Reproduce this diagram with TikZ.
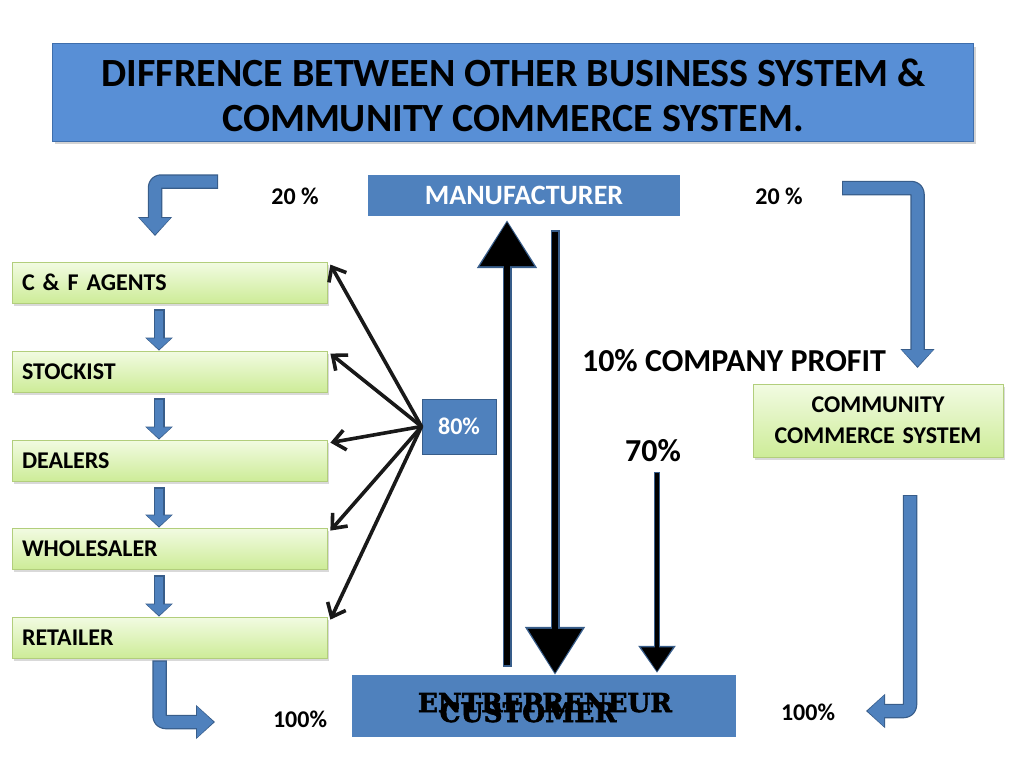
\documentclass[tikz,border=0pt]{standalone}
\usepackage{fontspec}
\usepackage{graphicx}
\setmainfont{Carlito}
\newfontfamily\fancyfont[FakeBold=2]{DejaVu Serif}
\usetikzlibrary{arrows.meta,shadows,calc}
\definecolor{bfill}{RGB}{79,129,189}
\definecolor{bdark}{RGB}{56,93,138}
\definecolor{tfill}{RGB}{88,143,214}
\definecolor{tborder}{RGB}{62,110,172}
\definecolor{gtop}{RGB}{242,251,226}
\definecolor{gbot}{RGB}{205,236,152}
\definecolor{gborder}{RGB}{178,206,124}
\begin{document}
\begin{tikzpicture}[x=1pt,y=-1pt,
  lbl/.style={font=\fontsize{24}{29}\selectfont\bfseries},
  big/.style={font=\fontsize{32}{38}\selectfont\bfseries},
  greenbox/.style={draw=gborder,line width=0.8pt,top color=gtop,bottom color=gbot,
    minimum height=41pt,text width=295pt,inner xsep=10pt,inner ysep=0pt,align=left,lbl,
    drop shadow={shadow xshift=2pt,shadow yshift=-2.5pt,opacity=0.3}},
  bluebox/.style={fill=bfill,inner sep=0pt},
  bO/.style={draw=bdark,line width=14.5pt,rounded corners=6pt,line join=round,-{Triangle[width=33pt,length=19pt]}},
  bI/.style={draw=bfill,line width=12pt,rounded corners=6pt,line join=round,shorten >=1.5pt,shorten <=1.2pt,-{Triangle[width=30pt,length=16.5pt]}},
  sO/.style={draw=bdark,line width=11pt,-{Triangle[width=27pt,length=13pt]}},
  sI/.style={draw=bfill,line width=8.6pt,shorten >=1.2pt,shorten <=1.2pt,-{Triangle[width=24pt,length=11pt]}},
  kO/.style={draw=bdark,line width=9pt,-{Triangle[width=58pt,length=48pt]}},
  kI/.style={draw=black,line width=5.5pt,shorten >=2pt,shorten <=1.5pt,-{Triangle[width=53pt,length=44pt]}},
  mO/.style={draw=bdark,line width=6pt,-{Triangle[width=36pt,length=27pt]}},
  mI/.style={draw=black,line width=3.5pt,shorten >=1.5pt,shorten <=1.2pt,-{Triangle[width=31pt,length=24pt]}},
  ptr/.style={draw=black!90,line width=3.6pt,line cap=round,-{Straight Barb[length=12pt,width=20pt]}}
]
\useasboundingbox (0,0) rectangle (1024,768);

% title
\node[draw=tborder,line width=1pt,fill=tfill,minimum width=921pt,minimum height=97pt,inner sep=0pt,
  drop shadow={shadow xshift=2.5pt,shadow yshift=-3pt,opacity=0.35}] (title) at (512.5,92.5) {};
\node[anchor=base,font=\fontsize{40}{48}\selectfont\bfseries] (tl1) at (513.5,86) {DIFFRENCE BETWEEN OTHER BUSINESS SYSTEM \&};
\node[anchor=base,font=\fontsize{40}{48}\selectfont\bfseries] (tl2) at (513,131) {COMMUNITY COMMERCE SYSTEM.};

% top row
\node[lbl,anchor=base] (t20l) at (295,204) {20 \%};
\node[lbl,anchor=base] (t20r) at (779,204) {20 \%};
\node[bluebox,minimum width=312pt,minimum height=41pt,font=\fontsize{28}{34}\selectfont\bfseries,text=white] (man) at (524,195.5) {MANUFACTURER};

% left chain
\node[greenbox] (cf) at (169.5,282.5) {C \& F AGENTS};
\node[greenbox] (st) at (169.5,371.5) {STOCKIST};
\node[greenbox] (de) at (169.5,460.5) {DEALERS};
\node[greenbox] (wh) at (169.5,548.5) {WHOLESALER};
\node[greenbox] (re) at (169.5,637.5) {RETAILER};

\foreach \a/\b in {cf/st,st/de,de/wh,wh/re}{
  \draw[sO] ([xshift=-10.5pt,yshift=-6pt]\a.south) -- ([xshift=-10.5pt]\b.north);
  \draw[sI] ([xshift=-10.5pt,yshift=-6pt]\a.south) -- ([xshift=-10.5pt]\b.north);
}

% 80% box and pointers
\node[bluebox,draw=bdark,line width=1pt,minimum width=74pt,minimum height=55pt,lbl,text=white] (p80) at (459,426.5) {80\%};
\foreach \b in {cf,st,de,wh,re}{
  \draw[ptr] (p80.west) -- ([xshift=3pt,yshift=-3pt]\b.north east);
}

% bottom box
\node[bluebox,minimum width=384pt,minimum height=62pt] (cust) at (544,706) {};
\node[anchor=base,inner sep=0pt] (ent) at (545,712) {\resizebox{254pt}{19pt}{\fancyfont\bfseries ENTREPRENEUR}};
\node[anchor=base,inner sep=0pt] (cus) at (528,722) {\resizebox{177pt}{20pt}{\fancyfont\bfseries CUSTOMER}};

% right side
\node[big,anchor=base] (tprofit) at (734,371) {10\% COMPANY PROFIT};
\node[big,anchor=base] (t70) at (653,461) {70\%};
\node[greenbox,text width=230pt,align=center,minimum height=73pt,font=\fontsize{24}{31}\selectfont\bfseries] (ccs) at (878,420.5) {COMMUNITY\\COMMERCE SYSTEM};
\node[lbl,anchor=base] (h1) at (300,727) {100\%};
\node[lbl,anchor=base] (h2) at (808,720) {100\%};

% big black arrows
\draw[kO] ([xshift=-37pt,yshift=8pt]cust.north) -- ([xshift=-17pt,yshift=-4pt]man.south);
\draw[kI] ([xshift=-37pt,yshift=8pt]cust.north) -- ([xshift=-17pt,yshift=-4pt]man.south);
\draw[kO] ([xshift=31pt,yshift=-14pt]man.south) -- ([xshift=11pt]cust.north);
\draw[kI] ([xshift=31pt,yshift=-14pt]man.south) -- ([xshift=11pt]cust.north);
\coordinate (a70) at (657,472);
\draw[mO] (a70) -- ([xshift=113pt,yshift=2pt]cust.north);
\draw[mI] (a70) -- ([xshift=113pt,yshift=2pt]cust.north);

% bent blue arrows
\coordinate (lt1) at (218,181.5); \coordinate (lt2) at (155,181.5); \coordinate (lt3) at (155,236);
\draw[bO] (lt1) -- (lt2) -- (lt3);
\draw[bI] (lt1) -- (lt2) -- (lt3);
\coordinate (rt1) at (842,188); \coordinate (rt2) at (917.5,188); \coordinate (rt3) at (917.5,368);
\draw[bO] (rt1) -- (rt2) -- (rt3);
\draw[bI] (rt1) -- (rt2) -- (rt3);
\coordinate (rl1) at (910,495); \coordinate (rl2) at (910,711); \coordinate (rl3) at (866,711);
\draw[bO] (rl1) -- (rl2) -- (rl3);
\draw[bI] (rl1) -- (rl2) -- (rl3);
\coordinate (lb) at (215,722);
\draw[bO] ([xshift=-10pt,yshift=-2pt]re.south) |- (lb);
\draw[bI] ([xshift=-10pt,yshift=-2pt]re.south) |- (lb);
\end{tikzpicture}
\end{document}
